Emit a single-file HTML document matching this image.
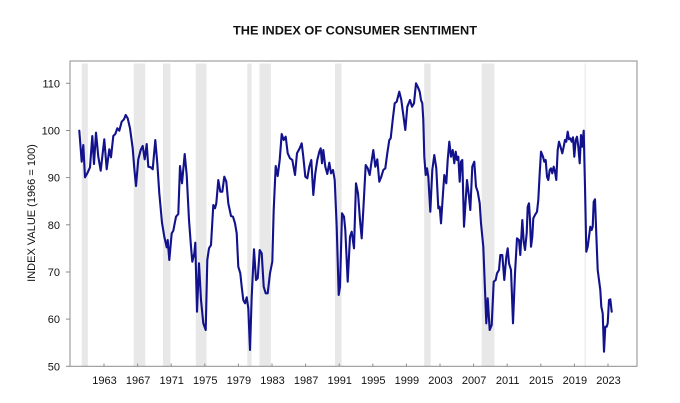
<!DOCTYPE html>
<html>
<head>
<meta charset="utf-8">
<style>
  html, body { margin: 0; padding: 0; background: #ffffff; }
  body { width: 680px; height: 403px; overflow: hidden; }
  svg { display: block; }
  text { font-family: "Liberation Sans", Arial, sans-serif; fill: #111; }
</style>
</head>
<body>
<svg width="680" height="403" viewBox="0 0 680 403" xmlns="http://www.w3.org/2000/svg">
  <rect x="0" y="0" width="680" height="403" fill="#ffffff"/>

  <!-- Title -->
  <text x="233" y="34.5" font-size="11.5" font-weight="bold" textLength="244" lengthAdjust="spacingAndGlyphs">THE INDEX OF CONSUMER SENTIMENT</text>

  <!-- Recession bands -->
  <g fill="#e8e8e8">
    <rect x="81.8" y="63.5" width="6.0" height="302.8"/>
    <rect x="133.7" y="63.5" width="11.6" height="302.8"/>
    <rect x="163" y="63.5" width="7.4" height="302.8"/>
    <rect x="195.8" y="63.5" width="10.8" height="302.8"/>
    <rect x="247.3" y="63.5" width="4.3" height="302.8"/>
    <rect x="259.5" y="63.5" width="11.4" height="302.8"/>
    <rect x="335" y="63.5" width="6.6" height="302.8"/>
    <rect x="424.2" y="63.5" width="6.5" height="302.8"/>
    <rect x="481.7" y="63.5" width="12.8" height="302.8"/>
    <rect x="584.6" y="63.5" width="1.1" height="302.8"/>
  </g>

  <!-- Frame -->
  <rect x="70" y="61" width="567" height="305.3" fill="none" stroke="#8c8c8c" stroke-width="1"/>

  <!-- Y ticks -->
  <g stroke="#8c8c8c" stroke-width="1">
    <line x1="66" y1="366.3" x2="70" y2="366.3"/>
    <line x1="66" y1="319.1" x2="70" y2="319.1"/>
    <line x1="66" y1="272" x2="70" y2="272"/>
    <line x1="66" y1="224.8" x2="70" y2="224.8"/>
    <line x1="66" y1="177.6" x2="70" y2="177.6"/>
    <line x1="66" y1="130.5" x2="70" y2="130.5"/>
    <line x1="66" y1="83.3" x2="70" y2="83.3"/>
  </g>
  <g font-size="11" text-anchor="end">
    <text x="60" y="370.3">50</text>
    <text x="60" y="323.1">60</text>
    <text x="60" y="276">70</text>
    <text x="60" y="228.8">80</text>
    <text x="60" y="181.6">90</text>
    <text x="60" y="134.5">100</text>
    <text x="60" y="87.3">110</text>
  </g>

  <!-- X ticks -->
  <g stroke="#8c8c8c" stroke-width="1">
    <line x1="104" y1="363.5" x2="104" y2="366.3"/>
    <line x1="137.6" y1="363.5" x2="137.6" y2="366.3"/>
    <line x1="171.2" y1="363.5" x2="171.2" y2="366.3"/>
    <line x1="204.8" y1="363.5" x2="204.8" y2="366.3"/>
    <line x1="238.4" y1="363.5" x2="238.4" y2="366.3"/>
    <line x1="272" y1="363.5" x2="272" y2="366.3"/>
    <line x1="305.6" y1="363.5" x2="305.6" y2="366.3"/>
    <line x1="339.2" y1="363.5" x2="339.2" y2="366.3"/>
    <line x1="372.8" y1="363.5" x2="372.8" y2="366.3"/>
    <line x1="406.4" y1="363.5" x2="406.4" y2="366.3"/>
    <line x1="440" y1="363.5" x2="440" y2="366.3"/>
    <line x1="473.6" y1="363.5" x2="473.6" y2="366.3"/>
    <line x1="507.2" y1="363.5" x2="507.2" y2="366.3"/>
    <line x1="540.8" y1="363.5" x2="540.8" y2="366.3"/>
    <line x1="574.4" y1="363.5" x2="574.4" y2="366.3"/>
    <line x1="608" y1="363.5" x2="608" y2="366.3"/>
  </g>
  <g font-size="11" text-anchor="middle">
    <text x="104.5" y="384">1963</text>
    <text x="138.1" y="384">1967</text>
    <text x="171.7" y="384">1971</text>
    <text x="205.3" y="384">1975</text>
    <text x="238.9" y="384">1979</text>
    <text x="272.5" y="384">1983</text>
    <text x="306.1" y="384">1987</text>
    <text x="339.7" y="384">1991</text>
    <text x="373.3" y="384">1995</text>
    <text x="406.9" y="384">1999</text>
    <text x="440.5" y="384">2003</text>
    <text x="474.1" y="384">2007</text>
    <text x="507.7" y="384">2011</text>
    <text x="541.3" y="384">2015</text>
    <text x="574.9" y="384">2019</text>
    <text x="608.5" y="384">2023</text>
  </g>

  <!-- Y axis title -->
  <text transform="translate(35,213) rotate(-90)" font-size="11" text-anchor="middle">INDEX VALUE (1966 = 100)</text>

  <!-- Series -->
  <polyline fill="none" stroke="#12128c" stroke-width="2.1" stroke-linejoin="round" stroke-linecap="round"
    points="79.3,130.7 81.7,161.7 83.3,145 85,177.3 87.3,173.3 90,167.3 92.3,136 94,164 96,132.7 98.3,156.7 100.7,170.7 104.3,139.3 106.7,169.3 109.3,149.3 111,157.3 113.3,136 115.3,134 117.3,128.3 119.3,130.7 121.7,121.7 124,119.3 125.7,115 127.7,118.3 130,128.3 132.7,148.3 134.3,168.3 136,186 138.3,159.3 140.7,150 142.7,146 144.7,159.3 146.7,144 148.3,166.7 150.7,167.3 152.7,169.3 155.3,140 157.3,163.3 159.3,193.3 162,222.7 164.3,236.7 166.7,247.3 167.7,240 169.3,260 171.7,233.3 173.3,230.7 176,216.7 178.3,214 180,166 182,183.3 184.7,154 186.7,175
    189,220 191,246.7 192.3,261.7 194.3,253.3 195.3,242.7 197,311.7 199,263.3 201,300 203.3,323.3 205.7,330 207.3,260 209,248.3 211,245 213.3,205 215,208.3 216.3,203.3 218.3,180 220.3,191.7 222.3,191.7 224.3,176.7 226.3,181.7 228.3,203.3 231,216 233,216.7 235,223.3 236.7,233.3 238.3,266.7 240.3,273.3 241.7,286.7 243.3,300 245,303.3 246.7,297.3 248.3,308.3 250,350 251.7,296.7 254,249.3 256,280 257.7,278.3 259.7,250 261.7,253.3 263.7,286.7 265.7,293.3 267.7,293.3 270,273.3 272.3,261.7 273.7,210 275.7,166 277.7,176 279.7,160 281.7,134 283.7,140 285.7,136.7 287.7,153.3 290,158.3 292.3,160 295,175 297,153.3 299.7,148.3
    301.7,143.3 303.3,156.7 305.3,176.7 307.3,178.3 309.3,166.7 311.3,160 313.3,195 315.3,173.3 317.3,160 319.3,151.7 320.7,148.3 322,163.3 323.3,150 325.3,166.7 327.3,174 329.3,162.7 331,173.3 333,170 334.7,180 336.7,226.7 338.7,295 340,286.7 342,213.3 344,216.7 345.3,230 347.7,281.7 350,236.7 351.7,231.7 354,248.3 356,183.3 358,193.3 360,220 361.7,238.3 363.3,210 365.7,165 367.7,168.3 369.7,175 371.3,163.3 373.3,150 375.3,166.7 377.3,159.3 379.3,181.7 381.3,176.7 383.3,170 385.3,168.3 387.3,153.3 389.3,140 390.7,138.3 392.7,120 394.7,103.3 396.7,101.7 399.3,91.7 401.3,100 403.3,115 405.3,130 407.3,106.7 410,100 412,106.7 414,103.3 416,83.3
    417.7,86.7 419.7,91.7 421,100 422.3,103.3 423.3,120 424.3,156.7 425.7,175 427,168.3 428.3,176.7 430.3,211.7 432.3,170 434.3,155 436.3,168.3 438.3,208.3 439.7,206.7 441,223.3 443,193.3 444.3,175 446.3,183.3 447.7,160 449.3,141.7 451,156.7 452.7,150 454.3,163.3 455.7,151.7 457,160 458.3,156.7 459.7,181.7 461,161.7 462.3,160 464,226.7 465.7,200 467,180 469,196.7 470.3,210 472.3,166.7 474.3,161.7 476,186.7 477.7,191.7 479.7,203.3 481,223.3 483.3,246.7 485,290 486.3,323.3 487.7,298.3 489.7,330 491.7,325 493.7,281.7 495.7,280 497,273.3 499,270 500.3,255 502.3,255 504.3,280 506.3,256.7 507.7,248.3 509,263.3 511,270 513,323.3 515,273.3 517,238.3 519,240 520.3,255 522.3,220 523.7,241.7 525,250 526.7,233.3 527.7,206.7 529,203.3 530,220 531,246.7 532.3,236.7 533.3,218.3 535,215
    537,211.7 538.3,200 539.7,173.3 541,151.7 543,156.7 544.3,161.7 545.7,160 547,176.7 548.3,180 549.7,170 551,168.3 552.3,173.3 553.7,166.7 555,171.7 556.3,180 557.7,150 559,141.7 560.3,146 562.3,153.3 563.7,146.7 565,140 566.3,141.7 567.7,131.7 569,139.3 570.3,138.3 571.7,141.7 573,137.3 574.3,156.7 575.7,140 577,136.7 578.3,146.7 579.7,163.3 581,135 582.3,146.7 583.7,130.7 585,186.7 586.3,251.7 587.7,246.7 589,236.7 590.3,226.7 591.7,230 592.7,226.7 593.7,201.7 595,199.3 596,226.7 597.7,270 599,280 600.3,290 601.3,306.7 602.7,313.3 604,351.7 605.3,326.7 606.7,326.7 607.7,323.3 609,300 610.3,299.3 611.7,311.7"/>
</svg>
</body>
</html>
